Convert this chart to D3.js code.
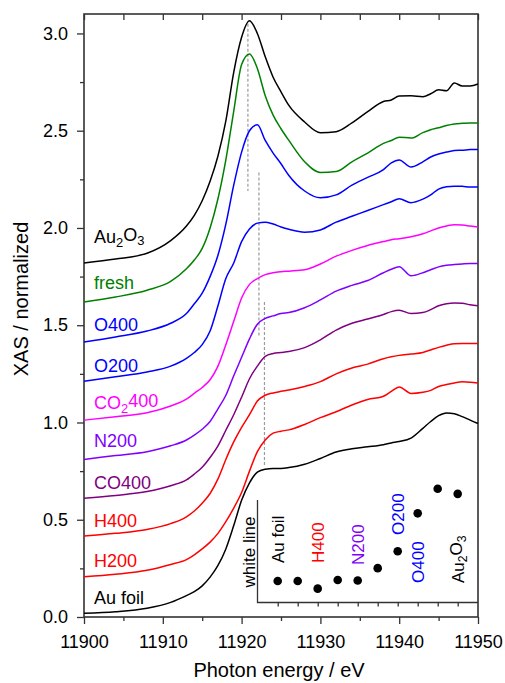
<!DOCTYPE html>
<html>
<head>
<meta charset="utf-8">
<script src="https://cdn.jsdelivr.net/npm/d3@7"></script>
<style>
  body { margin: 0; background: #fff; }
  svg { display: block; font-family: "Liberation Sans", Arial, sans-serif; }
</style>
</head>
<body>
<svg id="xas" width="505" height="683"></svg>
<script>
// Au L3-edge XANES, stacked with ~0.2 offsets.
const energy = [11900, 11904, 11908, 11911, 11913, 11914, 11915, 11916, 11917, 11918,
  11919, 11920, 11921, 11922, 11923, 11924, 11925, 11926, 11928, 11930,
  11932, 11934, 11936, 11938, 11939, 11940, 11941.5, 11943, 11944, 11945,
  11946, 11947, 11948, 11949, 11950];

const au2o3 = [1.82, 1.84, 1.87, 1.935, 2.01, 2.065, 2.14, 2.24, 2.37, 2.55,
  2.80, 2.98, 3.065, 3.00, 2.88, 2.775, 2.70, 2.63, 2.545, 2.49,
  2.495, 2.54, 2.598, 2.65, 2.658, 2.678, 2.68, 2.675, 2.69, 2.71,
  2.705, 2.745, 2.73, 2.73, 2.74];
const fresh = [1.62, 1.645, 1.68, 1.725, 1.79, 1.835, 1.895, 2.00, 2.15, 2.35,
  2.60, 2.84, 2.895, 2.82, 2.68, 2.58, 2.51, 2.45, 2.34, 2.285,
  2.29, 2.34, 2.385, 2.435, 2.45, 2.467, 2.462, 2.49, 2.505, 2.515,
  2.527, 2.535, 2.538, 2.54, 2.54];
const o400 = [1.414, 1.44, 1.47, 1.51, 1.56, 1.61, 1.665, 1.75, 1.86, 2.02,
  2.22, 2.39, 2.50, 2.53, 2.45, 2.385, 2.33, 2.27, 2.19, 2.155,
  2.17, 2.22, 2.26, 2.30, 2.335, 2.35, 2.313, 2.34, 2.365, 2.38,
  2.39, 2.398, 2.40, 2.403, 2.404];
const o200 = [1.212, 1.235, 1.26, 1.29, 1.33, 1.36, 1.40, 1.47, 1.60, 1.74,
  1.82, 1.93, 1.995, 2.025, 2.03, 2.02, 2.005, 1.993, 1.978, 1.99,
  2.03, 2.06, 2.09, 2.12, 2.135, 2.15, 2.13, 2.148, 2.17, 2.20,
  2.212, 2.215, 2.214, 2.21, 2.21];
const co2400 = [1.012, 1.03, 1.05, 1.085, 1.12, 1.15, 1.18, 1.22, 1.29, 1.40,
  1.52, 1.64, 1.71, 1.74, 1.76, 1.77, 1.775, 1.778, 1.785, 1.815,
  1.855, 1.885, 1.91, 1.93, 1.94, 1.945, 1.955, 1.97, 1.985, 2.00,
  2.01, 2.017, 2.015, 2.01, 2.005];
const n200 = [0.81, 0.83, 0.85, 0.88, 0.91, 0.935, 0.965, 1.005, 1.07, 1.14,
  1.24, 1.335, 1.43, 1.505, 1.535, 1.548, 1.56, 1.565, 1.59, 1.63,
  1.675, 1.705, 1.73, 1.77, 1.788, 1.80, 1.754, 1.77, 1.785, 1.80,
  1.808, 1.812, 1.815, 1.817, 1.817];
const co400 = [0.61, 0.625, 0.645, 0.675, 0.705, 0.735, 0.77, 0.82, 0.88, 0.96,
  1.04, 1.13, 1.225, 1.29, 1.34, 1.355, 1.36, 1.365, 1.385, 1.425,
  1.475, 1.51, 1.532, 1.555, 1.57, 1.577, 1.56, 1.565, 1.58, 1.60,
  1.61, 1.614, 1.613, 1.605, 1.60];
const h400 = [0.416, 0.43, 0.45, 0.48, 0.515, 0.545, 0.585, 0.635, 0.71, 0.81,
  0.90, 0.975, 1.04, 1.11, 1.14, 1.152, 1.16, 1.167, 1.185, 1.21,
  1.25, 1.28, 1.30, 1.328, 1.338, 1.345, 1.352, 1.36, 1.373, 1.386,
  1.397, 1.405, 1.406, 1.406, 1.406];
const h200 = [0.207, 0.22, 0.24, 0.27, 0.295, 0.32, 0.35, 0.385, 0.43, 0.49,
  0.56, 0.64, 0.75, 0.85, 0.91, 0.945, 0.955, 0.962, 0.99, 1.025,
  1.055, 1.09, 1.118, 1.135, 1.16, 1.183, 1.149, 1.155, 1.165, 1.185,
  1.195, 1.203, 1.209, 1.207, 1.203];
const auFoil = [0.019, 0.027, 0.045, 0.075, 0.11, 0.13, 0.16, 0.205, 0.265, 0.35,
  0.47, 0.60, 0.69, 0.745, 0.76, 0.764, 0.764, 0.768, 0.785, 0.815,
  0.848, 0.865, 0.875, 0.886, 0.895, 0.902, 0.92, 0.97, 1.005, 1.035,
  1.049, 1.045, 1.03, 1.012, 0.995];

const sampleNames = ["Au foil", "H200", "H400", "CO400", "N200", "CO2400", "O200", "O400", "fresh", "Au2O3"];
const spectra = [auFoil, h200, h400, co400, n200, co2400, o200, o400, fresh, au2o3];

// white-line intensity (inset, arbitrary units), same sample order
const whiteLine = [0.21, 0.21, 0.135, 0.22, 0.215, 0.335, 0.50, 0.87, 1.11, 1.06];
const insetLabelled = ["Au foil", "H400", "N200", "O200", "O400", "Au2O3"];

// dashed guides marking the white-line maxima
const guideEnergy = [11920.8, 11922.2, 11922.9];
const guideTop = [3.05, 2.285, 1.62];
const guideBottom = [2.19, 1.44, 0.78];

const xTicks = [11900, 11910, 11920, 11930, 11940, 11950];
const xMinor = [11905, 11915, 11925, 11935, 11945];
const yTicks = [0, 0.5, 1.0, 1.5, 2.0, 2.5, 3.0];
const yMinor = [0.25, 0.75, 1.25, 1.75, 2.25, 2.75];

const colors = {
  "Au foil": "#000000", "H200": "#ff0000", "H400": "#ff0000", "CO400": "#800080",
  "N200": "#8000ff", "CO2400": "#ff00ff", "O200": "#0000ff", "O400": "#0000ff",
  "fresh": "#008000", "Au2O3": "#000000"
};

// pieces for names with subscripts
const richParts = {
  "Au2O3": [["Au", 0], ["2", 1], ["O", 0], ["3", 1]],
  "CO2400": [["CO", 0], ["2", 1], ["400", 0]]
};

function writeName(text, name) {
  const parts = richParts[name] || [[name, 0]];
  let wasSub = false;
  parts.forEach(([s, sub]) => {
    const t = text.append("tspan").text(s);
    if (sub) t.attr("font-size", "0.72em").attr("dy", "0.3em");
    else if (wasSub) t.attr("dy", "-0.3em");
    wasSub = !!sub;
  });
}

function drawChart() {
  const svg = d3.select("#xas");
  const width = +svg.attr("width");
  const height = +svg.attr("height");
  const margin = { top: 14, right: 27, bottom: 66, left: 84 };
  const innerWidth = width - margin.left - margin.right;
  const innerHeight = height - margin.top - margin.bottom;

  const g = svg.append("g")
    .attr("transform", `translate(${margin.left},${margin.top})`);

  const x = d3.scaleLinear().domain([11900, 11950]).range([0, innerWidth]);
  const y = d3.scaleLinear().domain([0, 3.1]).range([innerHeight, 0]);

  const styleAxis = a => {
    a.select(".domain").remove();
    a.selectAll(".tick line").attr("stroke", "#333").attr("stroke-width", 1.3);
    a.selectAll("text").attr("fill", "#000").attr("font-size", 18)
      .attr("font-family", "Liberation Sans, Arial, sans-serif");
  };

  g.append("g")
    .attr("transform", `translate(0,${innerHeight})`)
    .call(d3.axisBottom(x).tickValues(xTicks).tickFormat(d3.format("d")).tickSize(7).tickPadding(11))
    .call(styleAxis);
  g.append("g")
    .attr("transform", `translate(0,${innerHeight})`)
    .call(d3.axisBottom(x).tickValues(xMinor).tickFormat("").tickSize(4))
    .call(styleAxis);
  // top edge: short inward ticks every 5 eV
  g.append("g")
    .call(d3.axisTop(x).tickValues(xTicks.concat(xMinor)).tickFormat("").tickSize(-6))
    .call(styleAxis);

  g.append("g")
    .call(d3.axisLeft(y).tickValues(yTicks).tickFormat(d3.format(".1f")).tickSize(7).tickPadding(9))
    .call(styleAxis);
  g.append("g")
    .call(d3.axisLeft(y).tickValues(yMinor).tickFormat("").tickSize(4))
    .call(styleAxis);

  g.append("rect")
    .attr("width", innerWidth)
    .attr("height", innerHeight)
    .attr("fill", "none")
    .attr("stroke", "#333")
    .attr("stroke-width", 1.6);

  // dashed guides
  g.selectAll(".guide")
    .data(guideEnergy)
    .join("line")
    .attr("class", "guide")
    .attr("x1", d => x(d))
    .attr("x2", d => x(d))
    .attr("y1", (d, i) => y(guideTop[i]))
    .attr("y2", (d, i) => y(guideBottom[i]))
    .attr("stroke", "#9a9a9a")
    .attr("stroke-width", 1.2)
    .attr("stroke-dasharray", "3 2");

  const line = d3.line()
    .x((d, i) => x(energy[i]))
    .y(d => y(d))
    .curve(d3.curveMonotoneX);

  g.selectAll(".spectrum")
    .data(spectra)
    .join("path")
    .attr("class", "spectrum")
    .attr("d", d => line(d))
    .attr("fill", "none")
    .attr("stroke", (d, i) => colors[sampleNames[i]])
    .attr("stroke-width", 1.5);

  // curve labels at the left edge
  const labelBase = {
    "Au2O3": 243, "fresh": 289, "O400": 331, "O200": 372, "CO2400": 409,
    "N200": 447, "CO400": 489, "H400": 527, "H200": 567, "Au foil": 604
  };
  sampleNames.forEach(name => {
    const t = svg.append("text")
      .attr("x", 94)
      .attr("y", labelBase[name])
      .attr("fill", colors[name])
      .attr("font-size", 18);
    writeName(t, name);
  });

  // axis titles
  svg.append("text")
    .attr("x", margin.left + innerWidth / 2 - 2)
    .attr("y", 677)
    .attr("text-anchor", "middle")
    .attr("font-size", 20)
    .text("Photon energy / eV");

  svg.append("text")
    .attr("transform", "translate(28,299) rotate(-90)")
    .attr("text-anchor", "middle")
    .attr("font-size", 20)
    .text("XAS / normalized");

  // inset: white-line intensity per sample
  const inset = svg.append("g");
  const insetLeft = 257.5, insetBottom = 602.5, insetTop = 500;
  const insetRight = margin.left + innerWidth;

  const ix = d3.scalePoint().domain(sampleNames).range([277.7, 457.7]);
  const iy = d3.scaleLinear().domain([0, 1]).range([insetBottom, insetTop]);

  inset.append("path")
    .attr("d", `M${insetLeft},${insetTop}V${insetBottom}H${insetRight}`)
    .attr("fill", "none")
    .attr("stroke", "#333")
    .attr("stroke-width", 1.3);

  inset.append("g")
    .attr("transform", `translate(0,${insetBottom})`)
    .call(d3.axisBottom(ix).tickFormat("").tickSize(4))
    .call(styleAxis);

  inset.selectAll("circle")
    .data(whiteLine)
    .join("circle")
    .attr("cx", (d, i) => ix(sampleNames[i]))
    .attr("cy", d => iy(d))
    .attr("r", 4.3)
    .attr("fill", "#000");

  inset.append("text")
    .attr("transform", `translate(255,552) rotate(-90)`)
    .attr("text-anchor", "middle")
    .attr("font-size", 17)
    .text("white line");

  const insetLabelBottom = {
    "Au foil": 563, "H400": 563, "N200": 565, "O200": 535, "O400": 583, "Au2O3": 583
  };
  insetLabelled.forEach(name => {
    const t = inset.append("text")
      .attr("transform", `translate(${ix(name) + 6},${insetLabelBottom[name]}) rotate(-90)`)
      .attr("fill", colors[name])
      .attr("font-size", 17);
    writeName(t, name);
  });
}

drawChart();
</script>
</body>
</html>
